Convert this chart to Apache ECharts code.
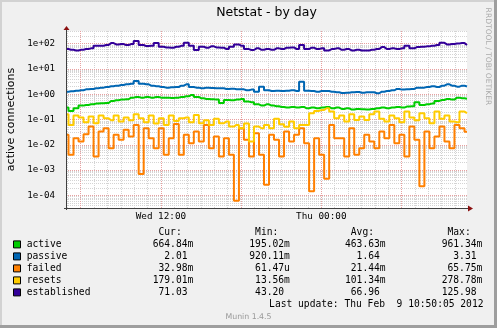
<!DOCTYPE html>
<html><head><meta charset="utf-8">
<script src="https://cdn.jsdelivr.net/npm/echarts@6/dist/echarts.min.js"></script>
<style>html,body{margin:0;padding:0;background:#f0f0f0}#c{width:497px;height:328px}</style>
</head><body><div id="c"></div>
<script>
// ---- data ----
const seriesNames = ['active', 'passive', 'failed', 'resets', 'established'];
const seriesColors = ['#00cc00', '#0066b3', '#ff8000', '#ffcc00', '#330099'];
const startHour = 4.9;      // hours after Wed 00:00 of first sample
const stepHours = 0.375;    // sample spacing
const active = [0.296,0.218,0.278,0.354,0.377,0.400,0.425,0.438,0.452,0.542,
  0.575,0.611,0.630,0.733,0.778,0.733,0.778,0.733,0.778,0.733,
  0.733,0.711,0.733,0.778,0.827,0.934,0.778,0.690,0.650,0.630,
  0.611,0.452,0.593,0.575,0.611,0.650,0.510,0.480,0.400,0.354,
  0.400,0.354,0.334,0.314,0.296,0.314,0.296,0.314,0.278,0.296,
  0.278,0.296,0.314,0.278,0.296,0.262,0.278,0.247,0.262,0.254,
  0.247,0.262,0.278,0.296,0.278,0.296,0.314,0.296,0.324,0.334,
  0.480,0.377,0.400,0.425,0.542,0.593,0.650,0.611,0.733,0.690,
  0.665];
const passive = [1.26,1.30,1.38,1.43,1.56,1.61,1.71,1.82,1.93,2.05,
  2.18,2.31,2.46,2.61,3.31,2.61,2.46,2.18,2.05,1.93,
  1.82,1.87,1.93,2.18,2.46,1.93,1.82,1.71,1.82,1.76,
  1.71,1.71,1.61,1.66,1.56,1.56,1.43,1.52,1.26,1.99,
  1.43,1.34,1.38,1.34,1.38,1.43,1.34,3.13,1.38,1.34,
  1.26,1.34,1.34,1.26,1.19,1.12,1.15,1.19,1.23,1.15,
  1.19,1.19,1.09,1.26,1.34,1.43,1.61,1.52,1.56,1.61,
  1.82,1.82,1.93,2.05,1.93,2.18,2.46,2.18,1.99,2.18,
  2.01];
const failed = [0.0247,0.00402,0.0183,0.0135,0.0262,0.0526,0.00346,0.0334,0.0452,0.00736,
  0.0247,0.0157,0.0389,0.0212,0.0612,0.000695,0.0452,0.0183,0.00736,0.0452,
  0.00402,0.0183,0.0658,0.00402,0.0247,0.0116,0.0334,0.0135,0.0612,0.00736,
  0.0212,0.00346,0.0183,0.00402,0.0000615,0.0452,0.0157,0.00346,0.0287,0.00402,
  0.000264,0.0247,0.0157,0.00346,0.0334,0.0135,0.0247,0.0452,0.0116,0.000144,
  0.0183,0.00402,0.000455,0.0612,0.0183,0.0183,0.00346,0.0452,0.00402,0.00736,
  0.0247,0.0135,0.00736,0.0334,0.0183,0.0612,0.0116,0.0247,0.00346,0.0526,
  0.0157,0.000227,0.0334,0.00736,0.0212,0.0526,0.0135,0.00736,0.0612,0.0452,
  0.0330];
const resets = [0.161,0.0612,0.143,0.119,0.0780,0.131,0.0713,0.143,0.112,0.0935,
  0.143,0.0829,0.119,0.0935,0.161,0.112,0.0780,0.143,0.0691,0.112,
  0.0612,0.143,0.0881,0.112,0.119,0.0780,0.152,0.0713,0.0935,0.0612,
  0.106,0.0713,0.0829,0.0526,0.0612,0.0452,0.0691,0.0136,0.0526,0.0452,
  0.0612,0.0452,0.106,0.0651,0.0511,0.0829,0.0452,0.0612,0.0612,0.177,
  0.218,0.239,0.279,0.206,0.112,0.143,0.0829,0.161,0.0964,0.131,
  0.0964,0.161,0.206,0.106,0.0829,0.143,0.112,0.0780,0.206,0.119,
  0.0935,0.177,0.112,0.0713,0.206,0.106,0.143,0.0829,0.0780,0.206,
  0.179];
const established = [61,57,54,57,61,65,82,82,88,105,
  93,96,88,96,126,88,80,82,105,75,
  71,69,75,82,108,82,56,75,69,78,
  71,69,61,75,93,82,61,56,65,57,
  61,57,65,61,69,71,61,88,61,69,
  61,65,54,61,65,57,61,54,57,54,
  54,57,61,73,61,65,61,65,82,65,
  73,75,78,82,88,108,93,96,102,105,
  88];
const xTickHours = [12, 24];
const xTickLabels = ['Wed 12:00', 'Thu 00:00'];
const yTickExps = [-4, -3, -2, -1, 0, 1, 2];
const yTickLabels = ['1e-04', '1e-03', '1e-02', '1e-01', '1e+00', '1e+01', '1e+02'];
const curVals = ['664.84m', '2.01', '32.98m', '179.01m', '71.03'];
const minVals = ['195.02m', '920.11m', '61.47u', '13.56m', '43.20'];
const avgVals = ['463.63m', '1.64', '21.44m', '101.34m', '66.96'];
const maxVals = ['961.34m', '3.31', '65.75m', '278.78m', '125.98'];
const titleText = 'Netstat - by day';
const yAxisName = 'active connections';
const lastUpdate = 'Last update: Thu Feb  9 10:50:05 2012';
const watermark = 'Munin 1.4.5';
const sideText = 'RRDTOOL / TOBI OETIKER';

// ---- layout ----
const W = 497, H = 328;
const gL = 66, gT = 31, gW = 401, gH = 177;
const gR = gL + gW, gB = gT + gH;
const MONO = '"DejaVu Sans Mono"';
const SANS = '"DejaVu Sans"';

const allSeries = [active, passive, failed, resets, established];

// grid lines (log decades and 2..9 subdivisions, hourly verticals)
const minorStyle = { color: '#d4d4d4', type: [1, 1], width: 1 };
const majorStyle = { color: '#e8a0a0', type: [1, 1], width: 1 };
const gridData = [];
for (let n = -5; n <= 2; n++) for (let k = 2; k <= 9; k++) {
  const v = n + Math.log10(k);
  if (v > -4.5 && v < 2.5) gridData.push({ yAxis: v, lineStyle: minorStyle });
}
for (let h = 5; h <= 34; h++) if (h % 6 !== 0) gridData.push({ xAxis: h, lineStyle: minorStyle });
yTickExps.forEach(v => gridData.push({ yAxis: v, lineStyle: majorStyle }));
for (let h = 6; h <= 34; h += 6) gridData.push({ xAxis: h, lineStyle: majorStyle });

const series = [{
  type: 'line', data: [], z: 1, zlevel: 0, silent: true,
  markLine: { silent: true, symbol: ['none', 'none'], label: { show: false }, animation: false, data: gridData }
}];
allSeries.forEach((vals, si) => {
  series.push({
    name: seriesNames[si], type: 'line', zlevel: 1, z: 3 + si, showSymbol: false, step: 'middle',
    silent: true, animation: false,
    lineStyle: { color: seriesColors[si], width: 2 },
    itemStyle: { color: seriesColors[si] },
    data: vals.map((v, i) => [startHour + i * stepHours, Math.log10(v)])
  });
});

function fmt(s) {
  const m = s.match(/^([\d.]+)([a-zA-Z]?)$/);
  return m[1].padStart(6, ' ') + m[2];
}

const graphic = [];
const ZL = 2;
// frame
graphic.push({ type: 'rect', zlevel: ZL, shape: { x: 0, y: 0, width: W, height: 2 }, style: { fill: '#d2d2d2' } });
graphic.push({ type: 'rect', zlevel: ZL, shape: { x: 0, y: 0, width: 2, height: H }, style: { fill: '#d2d2d2' } });
graphic.push({ type: 'rect', zlevel: ZL, shape: { x: 0, y: H - 3, width: W, height: 3 }, style: { fill: '#9e9e9e' } });
graphic.push({ type: 'rect', zlevel: ZL, shape: { x: W - 3, y: 0, width: 3, height: H }, style: { fill: '#9e9e9e' } });
// axes
graphic.push({ type: 'line', zlevel: ZL, shape: { x1: gL + 0.5, y1: gB + 2, x2: gL + 0.5, y2: gT - 2 }, style: { stroke: '#404040', lineWidth: 1 } });
graphic.push({ type: 'line', zlevel: ZL, shape: { x1: gL - 2, y1: gB + 0.5, x2: gR + 2, y2: gB + 0.5 }, style: { stroke: '#404040', lineWidth: 1 } });
graphic.push({ type: 'polygon', zlevel: ZL, shape: { points: [[gL - 2.5, gT - 1], [gL + 3.5, gT - 1], [gL + 0.5, gT - 5]] }, style: { fill: '#8b1010' } });
graphic.push({ type: 'polygon', zlevel: ZL, shape: { points: [[gR + 1, gB - 2.5], [gR + 1, gB + 3.5], [gR + 6, gB + 0.5]] }, style: { fill: '#8b1010' } });
// texts
graphic.push({ type: 'text', zlevel: ZL, x: gL + gW / 2, y: 13, style: { text: titleText, font: '12.5px ' + SANS, fill: '#000', align: 'center', verticalAlign: 'middle' } });
graphic.push({ type: 'text', zlevel: ZL, x: 11, y: gT + gH / 2, rotation: Math.PI / 2, style: { text: yAxisName, font: '11px ' + SANS, fill: '#000', align: 'center', verticalAlign: 'middle' } });
graphic.push({ type: 'text', zlevel: ZL, x: 487.5, y: 56.5, rotation: -Math.PI / 2, style: { text: sideText, font: '7.6px ' + SANS, fill: '#ababab', align: 'center', verticalAlign: 'middle' } });
graphic.push({ type: 'text', zlevel: ZL, x: W / 2, y: 316.7, style: { text: watermark, font: '7.8px ' + SANS, fill: '#999', align: 'center', verticalAlign: 'middle' } });
// legend
const LF = '9.63px ' + MONO;
const rowY0 = 244.4, rowDY = 12;
const cols = [[' Cur:', curVals, 152.7], [' Min:', minVals, 249.3], [' Avg:', avgVals, 345], [' Max:', maxVals, 441.7]];
cols.forEach(([h, vals, x]) => {
  graphic.push({ type: 'text', zlevel: ZL, x: x, y: rowY0 - rowDY, style: { text: h, font: LF, fill: '#000', align: 'left', verticalAlign: 'middle' } });
  vals.forEach((v, i) => graphic.push({ type: 'text', zlevel: ZL, x: x, y: rowY0 + i * rowDY, style: { text: fmt(v), font: LF, fill: '#000', align: 'left', verticalAlign: 'middle' } }));
});
seriesNames.forEach((n, i) => {
  const y = rowY0 + i * rowDY;
  graphic.push({ type: 'rect', zlevel: ZL, shape: { x: 13.5, y: y - 3.5, width: 7, height: 7 }, style: { fill: seriesColors[i], stroke: '#000', lineWidth: 1 } });
  graphic.push({ type: 'text', zlevel: ZL, x: 26.7, y: y, style: { text: n, font: LF, fill: '#000', align: 'left', verticalAlign: 'middle' } });
});
graphic.push({ type: 'text', zlevel: ZL, x: 483.5, y: rowY0 + 5 * rowDY, style: { text: lastUpdate, font: LF, fill: '#000', align: 'right', verticalAlign: 'middle' } });

const chart = echarts.init(document.getElementById('c'), null, { renderer: 'canvas' });
chart.setOption({
  backgroundColor: '#f0f0f0',
  animation: false,
  grid: { left: gL, top: gT, width: gW, height: gH, show: true, backgroundColor: '#ffffff', borderWidth: 0 },
  xAxis: {
    type: 'value', min: startHour, max: startHour + 80 * stepHours,
    axisLine: { show: false }, axisTick: { show: false }, splitLine: { show: false },
    axisLabel: {
      customValues: xTickHours, margin: 4, color: '#000', fontFamily: 'DejaVu Sans Mono', fontSize: 9.3,
      formatter: v => { const i = xTickHours.indexOf(v); return i >= 0 ? xTickLabels[i] : ''; }
    }
  },
  yAxis: {
    type: 'value', min: -4.5, max: 2.5,
    axisLine: { show: false }, axisTick: { show: false }, splitLine: { show: false },
    axisLabel: {
      customValues: yTickExps, margin: 11, color: '#000', fontFamily: 'DejaVu Sans Mono', fontSize: 9.2,
      formatter: v => { const i = yTickExps.indexOf(v); return i >= 0 ? yTickLabels[i] : ''; }
    }
  },
  series: series,
  graphic: graphic
});
</script></body></html>
